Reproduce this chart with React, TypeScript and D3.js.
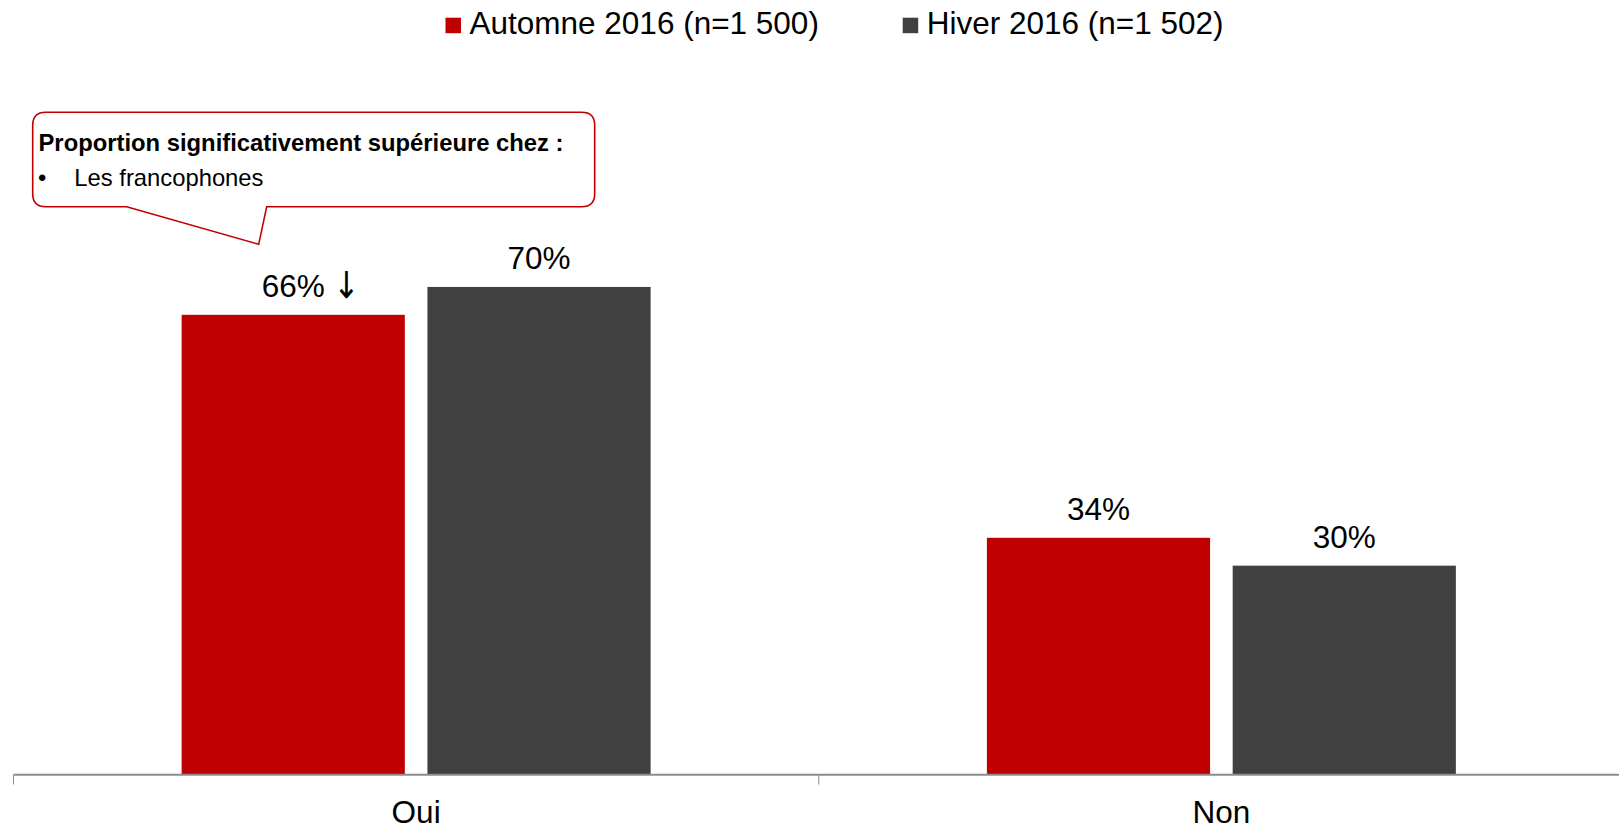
import React from "react";
import * as d3 from "d3";

const categories = ["Oui", "Non"];
const seriesNames = ["Automne 2016 (n=1 500)", "Hiver 2016 (n=1 502)"];
const automne = [66, 34];
const hiver = [70, 30];
const sigDown = [true, false]; // arrow marker on Automne values
const seriesColors = ["#C00000", "#404040"];
const calloutTitle = "Proportion significativement supérieure chez :";
const calloutItems = ["Les francophones"];

const W = 1619;
const H = 829;
const FONT = "'Liberation Sans', Arial, Helvetica, sans-serif";

export default function App() {
  const x = d3.scaleBand<string>().domain(categories).range([13.5, 1624]).paddingInner(0).paddingOuter(0);
  const bw = x.bandwidth();
  const groupW = bw * 0.5824;
  const xs = d3
    .scaleBand<string>()
    .domain(seriesNames)
    .range([(bw - groupW) / 2, (bw + groupW) / 2])
    .paddingInner(0.092)
    .paddingOuter(0);
  const y = d3.scaleLinear().domain([0, 100]).range([774.7, 77.9]);
  const values = [automne, hiver];

  // callout geometry
  const bx0 = 32.7, by0 = 112.3, bx1 = 594.7, by1 = 206.7, r = 13;
  const tailL = 126.7, tailR = 266.7, tipX = 258.7, tipY = 244.3;
  const callout = `M${bx0 + r},${by0} H${bx1 - r} Q${bx1},${by0} ${bx1},${by0 + r} V${by1 - r} Q${bx1},${by1} ${bx1 - r},${by1} H${tailR} L${tipX},${tipY} L${tailL},${by1} H${bx0 + r} Q${bx0},${by1} ${bx0},${by1 - r} V${by0 + r} Q${bx0},${by0} ${bx0 + r},${by0} Z`;

  const legendX = [445.5, 902.7];

  return (
    <svg
      width={W}
      height={H}
      viewBox={`0 0 ${W} ${H}`}
      style={{ position: "absolute", left: 0, top: 0, display: "block", background: "#fff" }}
      fontFamily={FONT}
    >
      {/* legend */}
      {seriesNames.map((s, i) => (
        <g key={s}>
          <rect x={legendX[i]} y={17.7} width={15.5} height={15.5} fill={seriesColors[i]} />
          <text x={legendX[i] + 24} y={34.3} fontSize={31.5} fill="#000">
            {s}
          </text>
        </g>
      ))}

      {/* bars */}
      {categories.map((c, ci) => (
        <g key={c} transform={`translate(${x(c)},0)`}>
          {seriesNames.map((s, si) => {
            const v = values[si][ci];
            const bx = xs(s)!;
            const w = xs.bandwidth();
            const ax = bx + w / 2 + 40;
            const ay = y(v) - 16.5;
            return (
              <g key={s}>
                <rect x={bx} y={y(v)} width={w} height={y(0) - y(v)} fill={seriesColors[si]} />
                <text x={bx + w / 2} y={y(v) - 17.7} fontSize={31.5} textAnchor="middle" fill="#000">
                  {v}%
                </text>
                {si === 0 && sigDown[ci] ? (
                  <text
                    x={0}
                    y={0}
                    fontSize={37}
                    fill="#000"
                    fontFamily="'DejaVu Sans', sans-serif"
                    transform={`translate(${ax},${ay}) scale(0.85,1)`}
                  >
                    ↓
                  </text>
                ) : null}
              </g>
            );
          })}
        </g>
      ))}

      {/* axis */}
      <line x1={13.5} x2={W} y1={774.7} y2={774.7} stroke="#8c8c8c" strokeWidth={2} />
      {[...categories.map((c) => x(c)!), x(categories[categories.length - 1])! + bw].map((t, i) => (
        <line key={i} x1={t} x2={t} y1={774.7} y2={784.5} stroke="#8c8c8c" strokeWidth={1} />
      ))}
      {categories.map((c) => (
        <text key={c} x={x(c)! + bw / 2} y={823} fontSize={31.5} textAnchor="middle" fill="#000">
          {c}
        </text>
      ))}

      {/* callout */}
      <path d={callout} fill="#fff" stroke="#C00000" strokeWidth={1.6} />
      <text x={38.5} y={151} fontSize={23.8} fontWeight="bold" fill="#000">
        {calloutTitle}
      </text>
      {calloutItems.map((it, i) => (
        <g key={it}>
          <text x={38} y={186 + i * 30} fontSize={23.8} fill="#000">
            •
          </text>
          <text x={74.3} y={186 + i * 30} fontSize={23.8} fill="#000">
            {it}
          </text>
        </g>
      ))}
    </svg>
  );
}
